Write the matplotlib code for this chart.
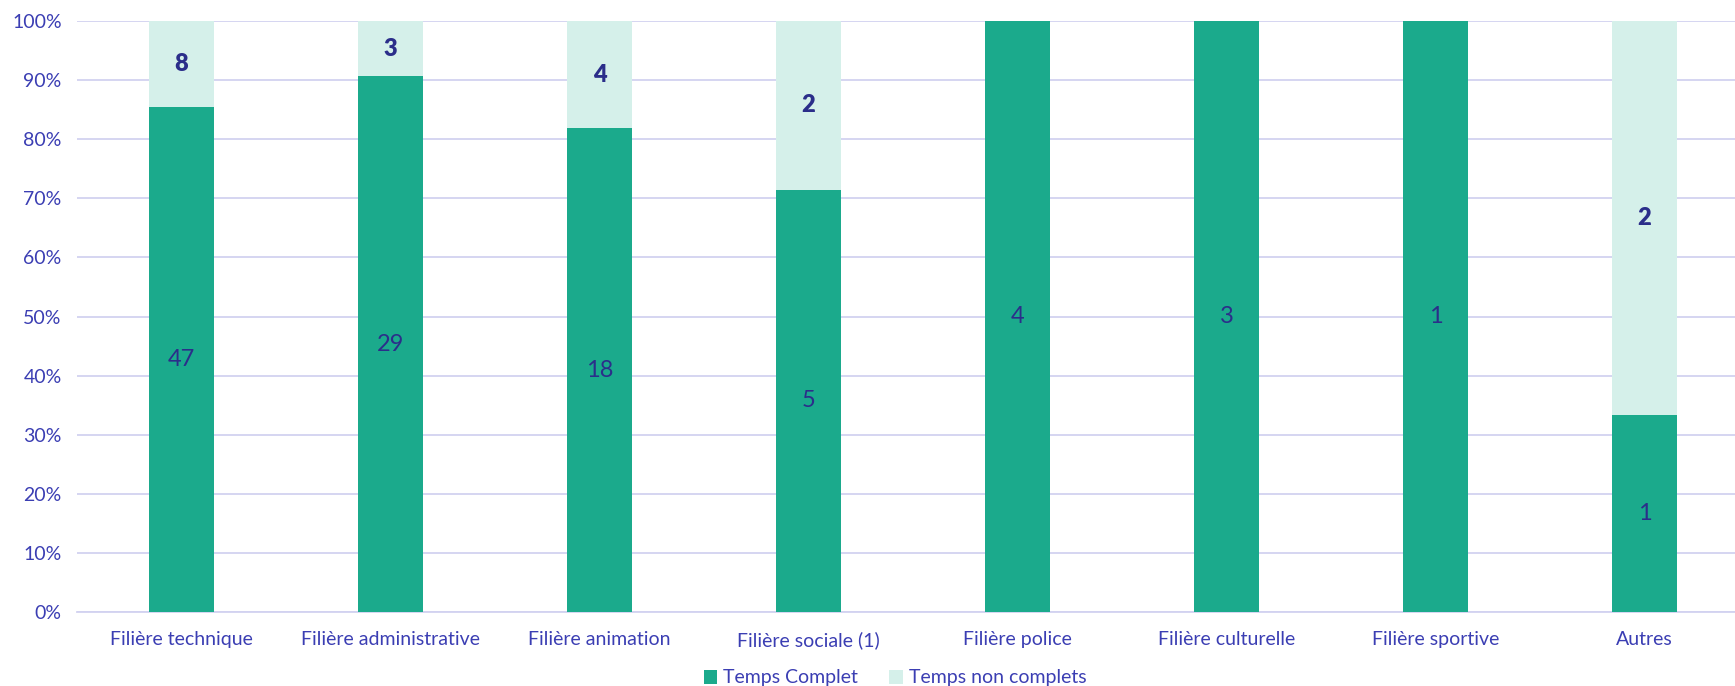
import numpy as np
import matplotlib.pyplot as plt
from matplotlib.ticker import PercentFormatter

# -----------------------
# Data
# -----------------------
categories = ["Filière technique", "Filière administrative", "Filière animation",
              "Filière sociale (1)", "Filière police", "Filière culturelle",
              "Filière sportive", "Autres"]
temps_complet = [47, 29, 18, 5, 4, 3, 1, 1]
temps_non_complet = [8, 3, 4, 2, 0, 0, 0, 2]

# -----------------------
# Style
# -----------------------
plt.rcParams["font.family"] = ["Lato", "DejaVu Sans"]
dark = "#1BAA8C"
light = "#D5F0EA"
tick_col = "#3B3EB3"
lab_col = "#2B2E8A"
grid_col = "#D2D2F0"

tc = np.array(temps_complet, dtype=float)
tnc = np.array(temps_non_complet, dtype=float)
tot = tc + tnc
p_tc = tc / tot * 100
p_tnc = tnc / tot * 100
x = np.arange(len(categories))

fig = plt.figure(figsize=(17.35, 6.86), dpi=100)
ax = fig.add_axes([77 / 1735, 1 - 612 / 686, 1658 / 1735, 591 / 686])

w = 65 / 209
ax.bar(x, p_tc, width=w, color=dark, label="Temps Complet", zorder=3)
ax.bar(x, p_tnc, width=w, bottom=p_tc, color=light, label="Temps non complets", zorder=3)

for i in range(len(x)):
    ax.text(x[i], p_tc[i] / 2, f"{temps_complet[i]}", ha="center", va="center",
            fontsize=17, color=lab_col, zorder=4)
    if temps_non_complet[i] > 0:
        ax.text(x[i], p_tc[i] + p_tnc[i] / 2, f"{temps_non_complet[i]}", ha="center",
                va="center", fontsize=17, color=lab_col, fontweight="heavy", zorder=4)

ax.set_xlim(-0.5, -0.5 + 1658 / 209)
ax.set_ylim(0, 100)
ax.set_yticks(np.arange(0, 101, 10))
ax.yaxis.set_major_formatter(PercentFormatter(decimals=0))
ax.set_xticks(x)
ax.set_xticklabels(categories)
ax.tick_params(axis="both", length=0, colors=tick_col, labelsize=14)
ax.tick_params(axis="y", pad=11)
ax.tick_params(axis="x", pad=14)
ax.grid(axis="y", color=grid_col, linewidth=1.3, zorder=0)
for s in ["top", "right", "left"]:
    ax.spines[s].set_visible(False)
ax.spines["bottom"].set_color(grid_col)
ax.spines["bottom"].set_linewidth(1.3)

leg = fig.legend(loc="center", bbox_to_anchor=(895 / 1735, 1 - 678 / 686), ncol=2,
                 frameon=False, fontsize=14, handlelength=0.7, handleheight=0.7,
                 handletextpad=0.3, columnspacing=1.6)
for t in leg.get_texts():
    t.set_color(tick_col)

plt.savefig("out.png", dpi=100)
